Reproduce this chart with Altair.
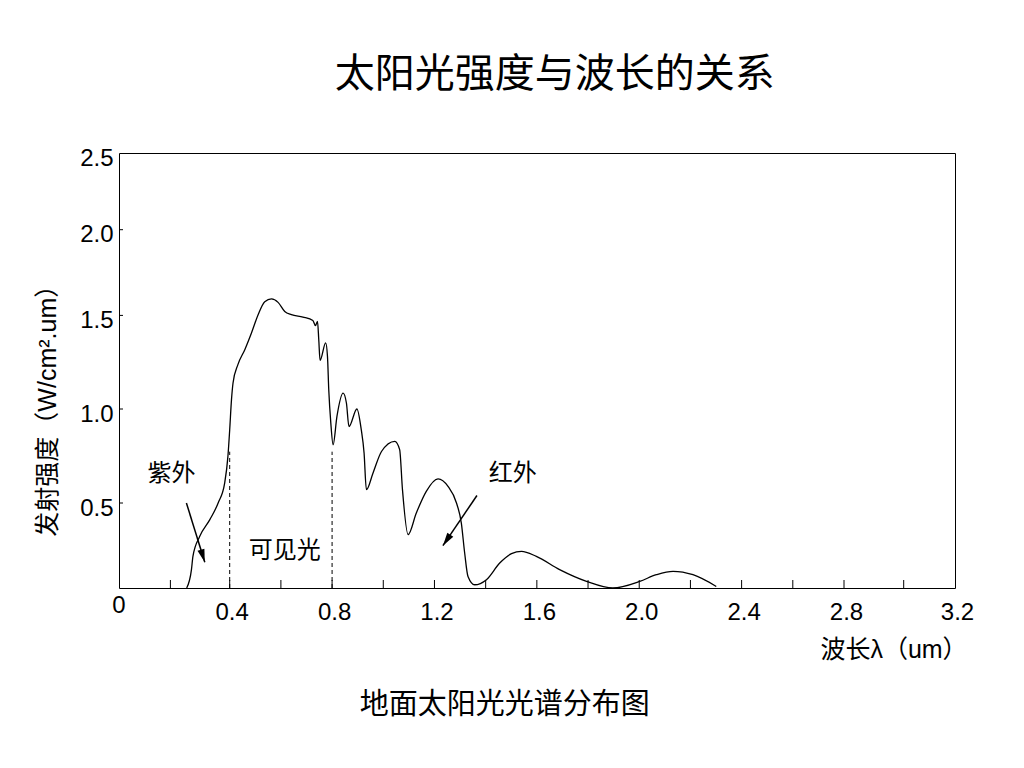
import altair as alt
import pandas as pd

# ---- data ----
wavelength = [0.255, 0.271, 0.276, 0.299, 0.333, 0.361, 0.383, 0.394,
              0.400, 0.407, 0.413, 0.432, 0.459, 0.485, 0.511, 0.537, 0.563, 0.589,
              0.615, 0.641, 0.686, 0.725, 0.735, 0.743, 0.748, 0.753, 0.775, 0.782,
              0.787, 0.795, 0.804, 0.819, 0.843, 0.856, 0.866, 0.897, 0.914, 0.925,
              0.934, 0.960, 0.993, 1.045, 1.064, 1.075, 1.097, 1.129, 1.168, 1.214,
              1.253, 1.286, 1.305, 1.318, 1.331, 1.357, 1.403, 1.455, 1.501, 1.540,
              1.598, 1.689, 1.794, 1.897, 2.002, 2.067, 2.132, 2.210, 2.301]
intensity = [0.0, 0.108, 0.186, 0.304, 0.402, 0.5, 0.606, 0.748,
             0.890, 1.050, 1.139, 1.237, 1.317, 1.406, 1.504, 1.580, 1.596, 1.576,
             1.523, 1.504, 1.491, 1.473, 1.445, 1.468, 1.370, 1.260, 1.353, 1.281,
             1.103, 0.926, 0.810, 0.961, 1.085, 1.032, 0.907, 1.0, 0.890, 0.766,
             0.571, 0.660, 0.774, 0.828, 0.784, 0.571, 0.314, 0.441, 0.562, 0.628,
             0.588, 0.5, 0.382, 0.206, 0.068, 0.019, 0.049, 0.147, 0.202, 0.215,
             0.186, 0.108, 0.039, 0.0, 0.039, 0.078, 0.098, 0.078, 0.009]

x_label_values = [0.4, 0.8, 1.2, 1.6, 2.0, 2.4, 2.8, 3.2]
x_tick_values = [0.2, 0.4, 0.6, 0.8, 1.0, 1.2, 1.4, 1.6, 1.8, 2.0, 2.2, 2.4, 2.6, 2.8, 3.0]
y_label_values = [0.5, 1.0, 1.5, 2.0, 2.5]
y_tick_values = [0.5, 1.0, 1.5, 2.0]

boundary_x = [0.4, 0.8]          # dashed separators (visible light range)
boundary_top = 0.773

region_labels = ["紫外", "可见光", "红外"]
region_x = [0.204, 0.615, 1.506]
region_y = [0.656, 0.219, 0.656]

arrow_x = [0.254, 1.366]
arrow_y = [0.500, 0.540]
arrow_tip_x = [0.316, 1.233]
arrow_tip_y = [0.151, 0.249]
arrow_angle = [163, 214]

title_text = "太阳光强度与波长的关系"
caption_text = "地面太阳光光谱分布图"
y_title = "发射强度（W/cm².um）"
x_title = "波长λ（um）"

W, H = 836, 435
LAT = "Liberation Sans, Noto Sans CJK SC"
CJK = "Noto Sans CJK SC"

# piecewise scales matching the reference's (uneven) axis spacing
xscale = alt.Scale(domain=[0, 0.2, 0.4, 2.8, 3.0, 3.2],
                   range=[0, 51.4, 110.7, 725, 784.7, W], nice=False, zero=False)
yscale = alt.Scale(domain=[0, 0.5, 1.0, 1.5, 2.0, 2.5],
                   range=[H, 350, 256, 162.4, 76.7, 0], nice=False, zero=False)

x_axis = alt.Axis(values=x_label_values, format=".1f", title=None,
                  ticks=False, tickSize=0, domain=False, grid=False,
                  labelFont=LAT, labelFontSize=24, labelColor="black",
                  labelPadding=12, labelOffset=2, labelFlush=False,
                  labelOverlap=False)
y_axis = alt.Axis(values=y_label_values, format=".1f", title=None,
                  ticks=False, tickSize=0, domain=False, grid=False,
                  labelFont=LAT, labelFontSize=24, labelColor="black",
                  labelPadding=6, labelOffset=5, labelFlush=False,
                  labelOverlap=False)


def X(f):
    return alt.X(f, scale=xscale, axis=x_axis)


def Y(f):
    return alt.Y(f, scale=yscale, axis=y_axis)


curve_df = pd.DataFrame({"wl": wavelength, "val": intensity})

curve = alt.Chart(curve_df).mark_line(
    color="black", strokeWidth=1.3, interpolate="monotone"
).encode(x=X("wl:Q"), y=Y("val:Q"))

xticks = alt.Chart(pd.DataFrame({"t": x_tick_values})).mark_rule(
    color="black", strokeWidth=1
).encode(x=X("t:Q"), y=alt.value(H - 8), y2=alt.value(H))

yticks = alt.Chart(pd.DataFrame({"t": y_tick_values})).mark_rule(
    color="black", strokeWidth=1
).encode(y=Y("t:Q"), x=alt.value(0), x2=alt.value(4))

dashes = alt.Chart(pd.DataFrame({"bx": boundary_x, "top": [boundary_top] * 2,
                                 "bot": [0.0] * 2})).mark_rule(
    color="black", strokeWidth=1, strokeDash=[4, 3]
).encode(x=X("bx:Q"), y=Y("bot:Q"), y2="top:Q")

labels = alt.Chart(pd.DataFrame({"lab": region_labels, "lx": region_x, "ly": region_y})).mark_text(
    font=CJK, fontSize=24, color="black", baseline="middle", align="center"
).encode(x=X("lx:Q"), y=Y("ly:Q"), text="lab:N")

arrow_df = pd.DataFrame({"ax": arrow_x, "ay": arrow_y, "tx": arrow_tip_x,
                         "ty": arrow_tip_y, "ang": arrow_angle})
shafts = alt.Chart(arrow_df).mark_rule(color="black", strokeWidth=1.5).encode(
    x=X("ax:Q"), y=Y("ay:Q"), x2="tx:Q", y2="ty:Q")
heads = alt.Chart(arrow_df).mark_point(
    shape="M0,0L-0.6,2.2L0.6,2.2Z", filled=True, size=144, color="black", opacity=1,
    strokeWidth=0
).encode(x=X("tx:Q"), y=Y("ty:Q"), angle=alt.Angle("ang:Q", scale=None))

zero_lab = alt.Chart(pd.DataFrame({"z": [0.0], "s": ["0"]})).mark_text(
    font=LAT, fontSize=24, color="black", baseline="middle", align="center"
).encode(x=X("z:Q"), y=alt.value(453.4), text="s:N")


def fixed_text(txt, x, y, size, angle=0, font=CJK):
    return alt.Chart(pd.DataFrame({"s": [txt]})).mark_text(
        font=font, fontSize=size, color="black", baseline="middle", align="center",
        angle=angle
    ).encode(x=alt.value(x), y=alt.value(y), text="s:N")


title = fixed_text(title_text, 435.7, -78.3, 40)
caption = fixed_text(caption_text, 385.7, 551.7, 29)
ytitle = fixed_text(y_title, -71.3, 251.7, 25, angle=270, font=LAT)
xtitle = fixed_text(x_title, 775.0, 496.7, 25, font=LAT)

chart = alt.layer(
    curve, xticks, yticks, dashes, labels, shafts, heads, zero_lab,
    title, caption, ytitle, xtitle
).properties(
    width=W, height=H,
    autosize=alt.AutoSizeParams(type="none"),
    padding={"left": 111, "top": 145, "right": 61, "bottom": 172},
    background="white",
).configure_view(stroke="black", strokeWidth=1)

chart.save("out.html", embed_options={"renderer": "svg", "actions": False})
